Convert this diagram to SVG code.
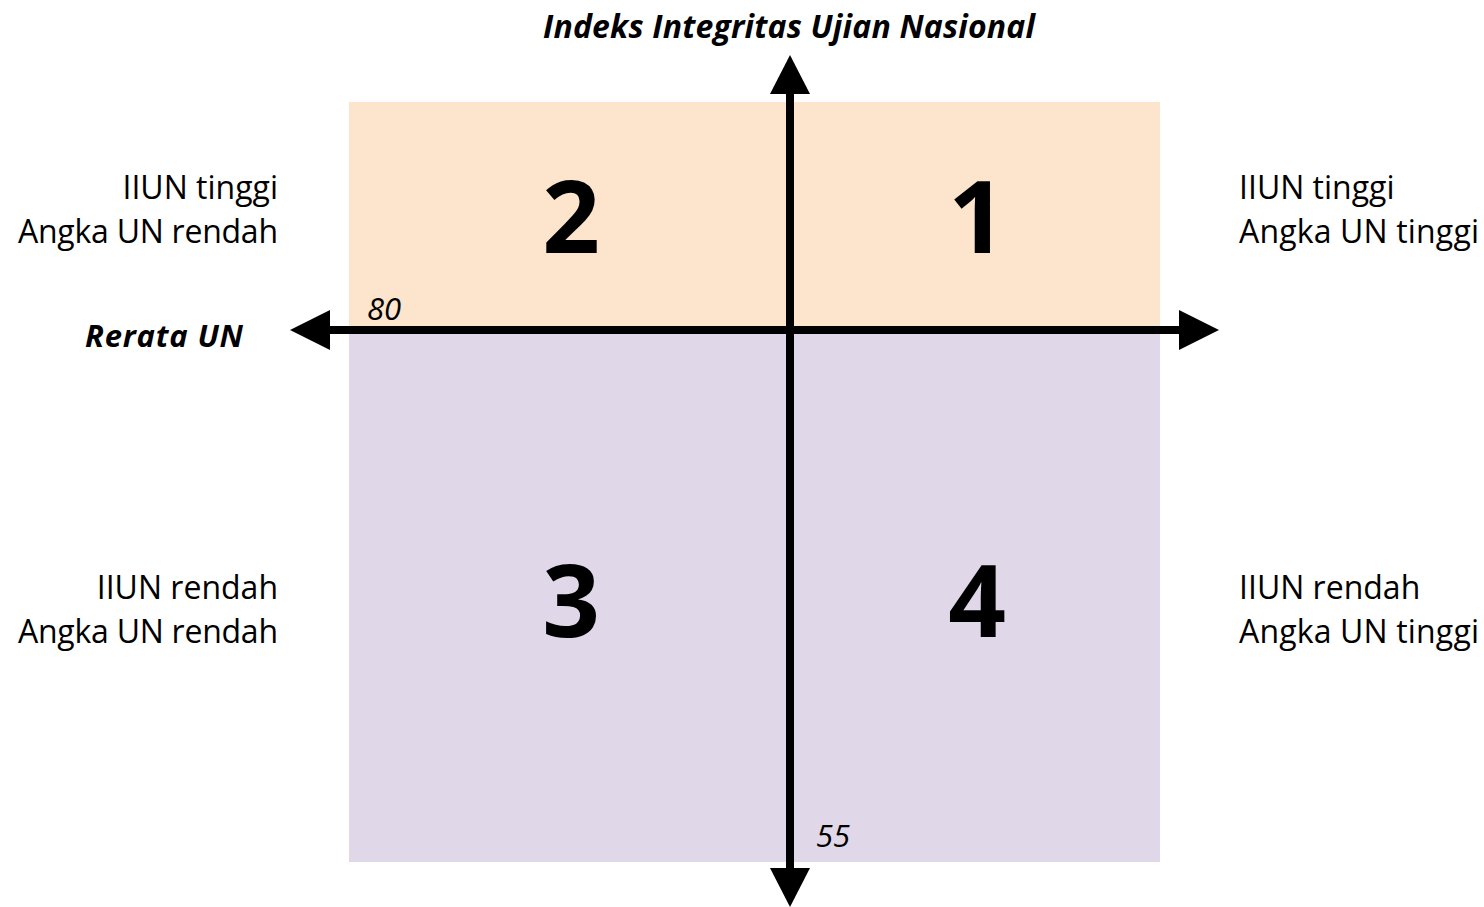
<svg xmlns="http://www.w3.org/2000/svg" width="1484" height="907" viewBox="0 0 1484 907">
  <style>
    .lbl { font-family: "Open Sans", "Liberation Sans", sans-serif; font-size: 32px; fill: #000; }
    .num { font-family: "Open Sans", "Liberation Sans", sans-serif; font-size: 101px; font-weight: bold; fill: #000; text-anchor: middle; }
    .axis { font-family: "Open Sans", "Liberation Sans", sans-serif; font-weight: bold; font-style: italic; fill: #000; }
    .tick { font-family: "Open Sans", "Liberation Sans", sans-serif; font-style: italic; font-size: 31px; fill: #000; }
    .ax { stroke: #000; stroke-width: 8; fill: none; }
    .head { fill: #000; }
  </style>
  <rect width="1484" height="907" fill="#fff"/>
  <g id="quadrants">
    <rect id="q-top" x="349" y="102" width="811" height="229" fill="#FCE4CD"/>
    <rect id="q-bottom" x="349" y="331" width="811" height="531" fill="#E0D8E8"/>
  </g>
  <g id="connectors">
    <line class="ax" x1="790" y1="90" x2="790" y2="872"/>
    <polygon class="head" points="790,55 810,94 770,94"/>
    <polygon class="head" points="790,907 810,868 770,868"/>
    <line class="ax" x1="326" y1="330" x2="1182" y2="330"/>
    <polygon class="head" points="290,330 330,310 330,350"/>
    <polygon class="head" points="1219,330 1179,310 1179,350"/>
  </g>
  <g id="title"><text class="axis" x="789" y="38" font-size="32" text-anchor="middle" textLength="492">Indeks Integritas Ujian Nasional</text></g>
  <g id="xlabel"><text class="axis" x="85" y="347" font-size="31" textLength="158">Rerata UN</text></g>
  <g id="tick80"><text class="tick" x="367" y="320">80</text></g>
  <g id="tick55"><text class="tick" x="816" y="847">55</text></g>
  <g id="q1"><text class="num" x="977" y="253">1</text></g>
  <g id="q2"><text class="num" x="571" y="253">2</text></g>
  <g id="q3"><text class="num" x="571" y="637">3</text></g>
  <g id="q4"><text class="num" x="977" y="637">4</text></g>
  <g id="label-q2">
    <text class="lbl" x="278" y="199" text-anchor="end">IIUN tinggi</text>
    <text class="lbl" x="278" y="243" text-anchor="end" textLength="260">Angka UN rendah</text>
  </g>
  <g id="label-q1">
    <text class="lbl" x="1239" y="199">IIUN tinggi</text>
    <text class="lbl" x="1239" y="243" textLength="240">Angka UN tinggi</text>
  </g>
  <g id="label-q3">
    <text class="lbl" x="278" y="599" text-anchor="end">IIUN rendah</text>
    <text class="lbl" x="278" y="643" text-anchor="end" textLength="260">Angka UN rendah</text>
  </g>
  <g id="label-q4">
    <text class="lbl" x="1239" y="599">IIUN rendah</text>
    <text class="lbl" x="1239" y="643" textLength="240">Angka UN tinggi</text>
  </g>
</svg>
